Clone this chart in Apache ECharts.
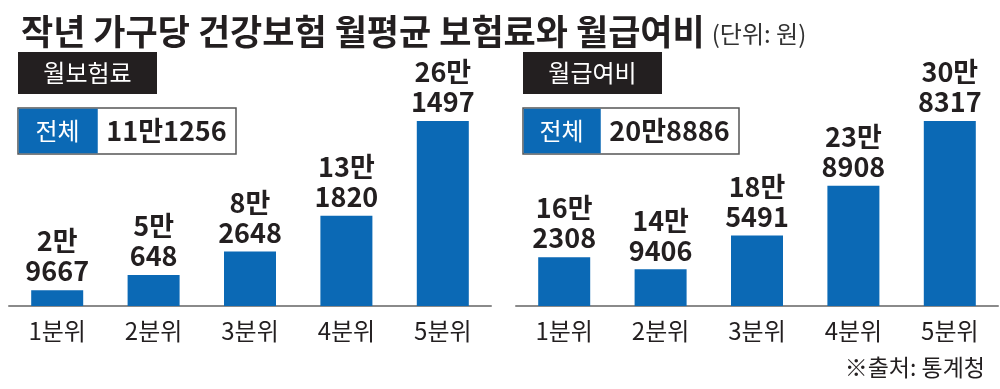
<!DOCTYPE html>
<html>
<head>
<meta charset="utf-8">
<script src="https://cdn.jsdelivr.net/npm/echarts@6/dist/echarts.min.js"></script>
<style>
html,body{margin:0;padding:0;background:#fff;}
#c{width:1000px;height:389px;}
</style>
</head>
<body>
<div id="c"></div>
<script>
const titleMain = '작년 가구당 건강보험 월평균 보험료와 월급여비';
const titleUnit = '(단위: 원)';
const source = '※출처: 통계청';
const categories = ['1분위', '2분위', '3분위', '4분위', '5분위'];
const panelNames = ['월보험료', '월급여비'];
const totalLabel = '전체';
const premium = [29667, 50648, 82648, 131820, 261497];
const benefit = [162308, 149406, 185491, 238908, 308317];
const totals = [111256, 208886];

const NUM_FONT = "'Noto Sans CJK KR', sans-serif";
const KR_FONT = "'Noto Sans CJK KR', sans-serif";
const DARK = '#231f20';
const BLUE = '#0b69b5';

function fmt(v) {
  const man = Math.floor(v / 10000);
  const rest = v % 10000;
  return man + '만' + (rest ? String(rest) : '');
}
function fmt2(v) {
  const man = Math.floor(v / 10000);
  const rest = v % 10000;
  return man + '만\n' + rest;
}

const chart = echarts.init(document.getElementById('c'), null, {renderer: 'canvas'});

const xAxisCommon = {
  type: 'category',
  data: categories,
  axisTick: {show: false},
  axisLine: {lineStyle: {color: '#8a8a8a', width: 2}},
  axisLabel: {fontSize: 24, color: DARK, margin: 13, fontFamily: NUM_FONT}
};

function seriesFor(data, idx) {
  return {
    type: 'bar',
    xAxisIndex: idx, yAxisIndex: idx,
    data: data,
    barWidth: 52,
    itemStyle: {color: BLUE},
    label: {
      show: true, position: 'top', distance: 4,
      formatter: p => fmt2(p.value),
      fontSize: 27, fontWeight: 'bold', lineHeight: 30,
      color: DARK, fontFamily: NUM_FONT
    }
  };
}

function panelGraphics(x, name, total, boxW, blueW) {
  return [
    {type: 'rect', shape: {x: x, y: 52, width: 139, height: 42}, style: {fill: DARK}},
    {type: 'text', style: {text: name, x: x + 69.5, y: 73, align: 'center', verticalAlign: 'middle',
      fontSize: 24, fontFamily: KR_FONT, fill: '#fff'}},
    {type: 'rect', shape: {x: x, y: 108, width: boxW, height: 46}, style: {fill: '#fff', stroke: '#555', lineWidth: 1.5}},
    {type: 'rect', shape: {x: x + 0.75, y: 108.75, width: blueW, height: 44.5}, style: {fill: BLUE}},
    {type: 'text', style: {text: totalLabel, x: x + blueW / 2, y: 131, align: 'center', verticalAlign: 'middle',
      fontSize: 24, fontFamily: KR_FONT, fill: '#fff'}},
    {type: 'text', style: {text: fmt(total), x: x + blueW + (boxW - blueW) / 2, y: 131, align: 'center', verticalAlign: 'middle',
      fontSize: 27, fontWeight: 'bold', fontFamily: NUM_FONT, fill: DARK}}
  ];
}

const option = {
  animation: false,
  backgroundColor: '#fff',
  title: {
    left: 16, top: 9,
    text: '{a|' + titleMain + '} {b|' + titleUnit + '}',
    textStyle: {
      rich: {
        a: {fontSize: 35, fontWeight: 'bold', fontFamily: KR_FONT, color: DARK},
        b: {fontSize: 24, fontWeight: 'normal', fontFamily: KR_FONT, color: '#333', padding: [4, 0, 0, 2]}
      }
    }
  },
  grid: [
    {left: 9, width: 482, top: 121, bottom: 83},
    {left: 516, width: 482, top: 121, bottom: 83}
  ],
  xAxis: [
    Object.assign({gridIndex: 0}, xAxisCommon),
    Object.assign({gridIndex: 1}, xAxisCommon)
  ],
  yAxis: [
    {gridIndex: 0, type: 'value', min: 8000, max: 'dataMax', show: false},
    {gridIndex: 1, type: 'value', min: 110000, max: 'dataMax', show: false}
  ],
  series: [seriesFor(premium, 0), seriesFor(benefit, 1)],
  graphic: [].concat(
    panelGraphics(18, panelNames[0], totals[0], 218, 79),
    panelGraphics(523, panelNames[1], totals[1], 216, 77),
    [{type: 'text', style: {text: source, x: 985, y: 367, align: 'right', verticalAlign: 'middle',
      fontSize: 23, fontFamily: KR_FONT, fill: DARK}}]
  )
};
chart.setOption(option);
</script>
</body>
</html>
